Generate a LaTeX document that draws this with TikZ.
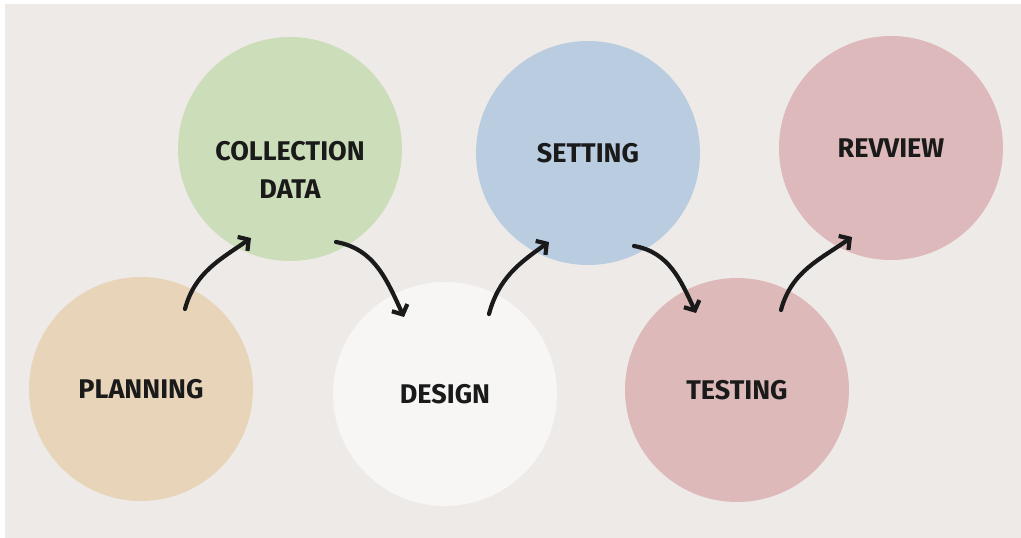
\documentclass[tikz,border=0pt]{standalone}
\usepackage{fontspec}
\setmainfont{Fira Sans}
\usetikzlibrary{calc,arrows.meta}
\definecolor{bg}{HTML}{EEEAE8}
\definecolor{ink}{HTML}{1A1A1A}
\definecolor{plancol}{HTML}{E8D4B9}
\definecolor{collcol}{HTML}{CCDDB9}
\definecolor{desicol}{HTML}{F7F6F5}
\definecolor{settcol}{HTML}{B9CCE0}
\definecolor{testcol}{HTML}{DDB9BA}
\definecolor{revwcol}{HTML}{DDB9BB}
\tikzset{
  tag/.style={font=\bfseries\fontsize{27}{38}\selectfont, text=ink, align=center},
  stage/.style={circle, minimum size=224pt, inner sep=0pt, tag},
  flow/.style={draw=ink, line width=4.2pt, line cap=round,
    -{Straight Barb[length=7.5pt,width=17pt]}}
}
\begin{document}
\begin{tikzpicture}[x=1pt,y=1pt]
        \fill[white] (0,0) rectangle (1021,538);
        \fill[bg] (5,0) rectangle (1021,534);
        % stages
        \node[stage,fill=plancol] (plan) at (141,149) {PLANNING};
        \node[stage,fill=collcol,
            label={[tag,yshift=-21pt]center:COLLECTION\\DATA}] (coll) at (290,389) {};
        \node[stage,fill=desicol] (desi) at (445,144) {DESIGN};
        \node[stage,fill=settcol] (sett) at (588,385) {SETTING};
        \node[stage,fill=testcol] (test) at (737,148) {TESTING};
        \node[stage,fill=revwcol] (revw) at (891,390) {REVVIEW};
        % arrows
        \foreach \a/\b in {plan/coll, desi/sett, test/revw}
        \draw[flow] ($(\a)+(44,80)$) to[out=75,in=215] ($(\b)+(-39,-89)$);
        \foreach \a/\b in {coll/desi, sett/test}
        \draw[flow] ($(\a)+(46,-93)$) to[out=-10,in=115] ($(\b)+(-41,77)$);
    \end{tikzpicture}
\end{document}
